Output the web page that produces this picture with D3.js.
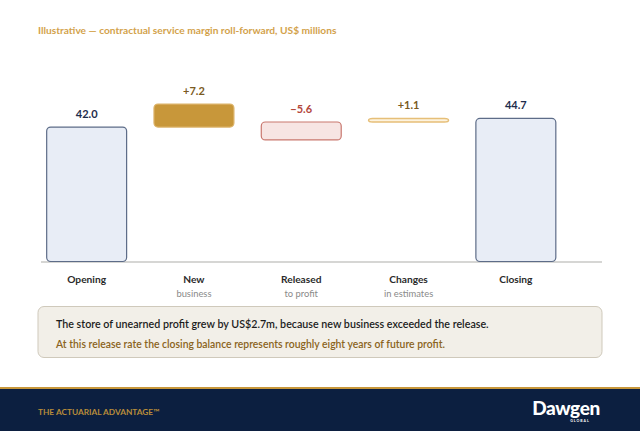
<!DOCTYPE html>
<html>
<head>
<meta charset="utf-8">
<script src="https://cdn.jsdelivr.net/npm/d3@7"></script>
<style>
  body { margin: 0; background: #fff; }
  svg { display: block; font-family: Lato, "Open Sans", sans-serif; }
</style>
</head>
<body>
<script>
const categories = ["Opening", "New", "Released", "Changes", "Closing"];
const subLabels = ["", "business", "to profit", "in estimates", ""];
const values = [42.0, 7.2, -5.6, 1.1, 44.7];
const kinds = ["total", "up", "down", "up", "total"];
const valueLabels = ["42.0", "+7.2", "\u22125.6", "+1.1", "44.7"];

const W = 640, H = 431;
const baseline = 261.5;

const svg = d3.select("body").append("svg")
    .attr("width", W)
    .attr("height", H);

// title
svg.append("text")
    .attr("x", 38).attr("y", 34)
    .attr("fill", "#d3a24b")
    .attr("font-size", 10.2)
    .attr("font-weight", 700)
    .text("Illustrative \u2014 contractual service margin roll-forward, US$ millions");

const x = d3.scaleBand()
    .domain(categories)
    .range([33, 569.5])
    .paddingInner(0.255)
    .paddingOuter(0.1275);

const y = d3.scaleLinear()
    .domain([0, 50])
    .range([baseline, 101.5]);

// running total -> bar spans (negative step is drawn below the new level, as in the source)
let running = 0;
const bars = categories.map((c, i) => {
    const v = values[i];
    let lo, hi;
    if (kinds[i] === "total") {
        lo = 0; hi = v; running = v;
    } else if (v >= 0) {
        lo = running; hi = running + v; running = hi;
    } else {
        running = running + v;
        lo = running + v; hi = running;
    }
    return { c, i, v, lo, hi, kind: kinds[i] };
});

const fills = { total: "#e8edf6", up: "#c8973a", down: "#f7e5e3" };
const strokes = { total: "#5d6c88", up: "#dcb369", down: "#c9786f" };
const labelColors = { total: "#1e2d4c", up: "#7a5a22", down: "#b3473c" };

// axis line
svg.append("line")
    .attr("x1", 41).attr("x2", 602)
    .attr("y1", baseline + 0.5).attr("y2", baseline + 0.5)
    .attr("stroke", "#c9c9c6")
    .attr("stroke-width", 1.5);

svg.selectAll("rect.bar")
    .data(bars)
    .enter().append("rect")
    .attr("class", "bar")
    .attr("x", d => x(d.c))
    .attr("y", d => y(d.hi))
    .attr("width", x.bandwidth())
    .attr("height", d => Math.max(3, y(d.lo) - y(d.hi)))
    .attr("rx", 4)
    .attr("fill", d => d.i === 3 ? "#fdf3df" : fills[d.kind])
    .attr("stroke", d => d.i === 3 ? "#e6bf78" : strokes[d.kind])
    .attr("stroke-width", d => d.i === 3 ? 1.5 : 1.2);

svg.selectAll("text.val")
    .data(bars)
    .enter().append("text")
    .attr("class", "val")
    .attr("x", d => x(d.c) + x.bandwidth() / 2)
    .attr("y", d => y(d.hi) - 9)
    .attr("text-anchor", "middle")
    .attr("font-size", 11)
    .attr("font-weight", 700)
    .attr("fill", d => labelColors[d.kind])
    .text(d => valueLabels[d.i]);

svg.selectAll("text.cat")
    .data(categories)
    .enter().append("text")
    .attr("class", "cat")
    .attr("x", d => x(d) + x.bandwidth() / 2)
    .attr("y", 283)
    .attr("text-anchor", "middle")
    .attr("font-size", 10.2)
    .attr("font-weight", 700)
    .attr("fill", "#2b2b2b")
    .text(d => d);

svg.selectAll("text.sub")
    .data(categories)
    .enter().append("text")
    .attr("class", "sub")
    .attr("x", d => x(d) + x.bandwidth() / 2)
    .attr("y", 297)
    .attr("text-anchor", "middle")
    .attr("font-size", 9.4)
    .attr("fill", "#8a8a8a")
    .text((d, i) => subLabels[i]);

// note box
svg.append("rect")
    .attr("x", 38).attr("y", 306.5)
    .attr("width", 564).attr("height", 51)
    .attr("rx", 6)
    .attr("fill", "#f2efe8")
    .attr("stroke", "#cfc9bb");

svg.append("text")
    .attr("x", 56).attr("y", 327.5)
    .attr("font-size", 10.7)
    .attr("font-weight", 600)
    .attr("fill", "#1c1c1c")
    .text("The store of unearned profit grew by US$2.7m, because new business exceeded the release.");

svg.append("text")
    .attr("x", 56).attr("y", 347.5)
    .attr("font-size", 10.4)
    .attr("font-weight", 600)
    .attr("fill", "#8a6320")
    .text("At this release rate the closing balance represents roughly eight years of future profit.");

// footer
svg.append("rect")
    .attr("x", 0).attr("y", 388)
    .attr("width", W).attr("height", H - 388)
    .attr("fill", "#0c1f40");

svg.append("rect")
    .attr("x", 0).attr("y", 387)
    .attr("width", W).attr("height", 2)
    .attr("fill", "#c8973a");

svg.append("text")
    .attr("x", 38).attr("y", 415)
    .attr("font-size", 8.3)
    .attr("font-weight", 700)
    .attr("fill", "#b88c3a")
    .text("THE ACTUARIAL ADVANTAGE\u2122");

svg.append("text")
    .attr("x", 566).attr("y", 415)
    .attr("text-anchor", "middle")
    .attr("font-size", 19)
    .attr("font-weight", 900)
    .attr("letter-spacing", -0.4)
    .attr("fill", "#ffffff")
    .text("Dawgen");

svg.append("text")
    .attr("x", 580).attr("y", 421.5)
    .attr("text-anchor", "middle")
    .attr("font-size", 3.5)
    .attr("font-weight", 700)
    .attr("letter-spacing", 1)
    .attr("fill", "#ffffff")
    .text("GLOBAL");
</script>
</body>
</html>
